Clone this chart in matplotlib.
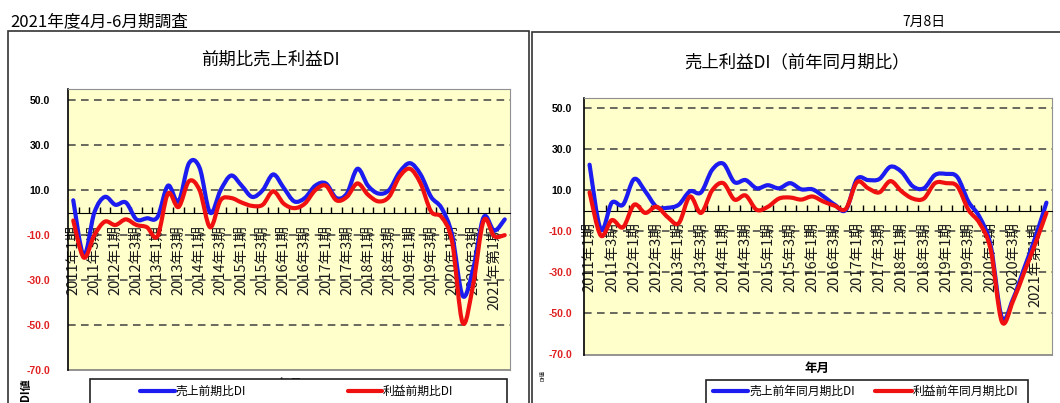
import numpy as np
import matplotlib
matplotlib.use("Agg")
import matplotlib.pyplot as plt
from matplotlib.path import Path
from matplotlib.patches import PathPatch, Rectangle
from matplotlib.lines import Line2D

plt.rcParams['font.family'] = ['Noto Sans CJK JP', 'DejaVu Sans']

# --- data (2011年1期 .. 2021年 , quarterly) ---
tick_labels = ["2011年1期", "2011年3期", "2012年1期", "2012年3期", "2013年1期",
               "2013年3期", "2014年1期", "2014年3期", "2015年1期", "2015年3期",
               "2016年1期", "2016年3期", "2017年1期", "2017年3期", "2018年1期",
               "2018年3期", "2019年1期", "2019年3期", "2020年1期", "2020年3期",
               "2021年第1期"]

# 前期比
sales_qoq = [5.5, -19, 0, 7, 3.5, 4.5, -3, -2.5, -2, 12,
             5, 22, 20, 0, 10, 16.5, 12, 7, 10, 17,
             11, 5, 6.5, 12, 13, 6.5, 8.5, 19.5, 12, 8.5,
             10, 18, 22, 17, 7, 2, -10, -37, -25, -2,
             -8, -3]
profit_qoq = [-3.5, -20, -10, -4, -5.5, -3, -5.5, -6.5, -10.5, 8.5,
              2.5, 14, 10, -6.5, 5.5, 6.5, 4.5, 3, 3.5, 9.5,
              4, 2, 4, 10, 12, 5.5, 7, 13, 8, 5,
              7, 16, 19.5, 13, 0.5, -2, -13, -49, -32, -3.5,
              -10.5, -10]

# 前年同月期比
sales_yoy = [22.5, -9, 4, 3, 15.5, 9.5, 2, 1.5, 3, 9.5,
             9, 20, 23, 14, 15, 11, 12.5, 11, 13.5, 10.5,
             10.5, 7, 3, 0.5, 15.5, 15, 15.5, 21.5, 19, 12,
             11, 17.5, 18, 16.5, 4.5, -3, -17, -52, -43, -28,
             -13, 4]
profit_yoy = [9, -12, -4.5, -8, 3, -1, 2, -3, -6, 7,
              -1, 10, 13.5, 5.5, 7.5, 0.5, 2, 6, 6.5, 5.5,
              7, 4.5, 2.5, 1, 14, 11, 9, 14.5, 9.5, 6,
              6, 13.5, 13.5, 12, 0.5, -6, -19, -54, -44, -30,
              -16, -1]

y_ticks = [50, 30, 10, -10, -30, -50, -70]

BLUE = "#1c1cf0"
RED = "#f01010"
W, H = 1060, 403


def smooth_line(ax, values, color):
    # Excel風のなめらか線 (Catmull-Rom -> ベジェ)
    x = np.arange(len(values), dtype=float)
    y = np.asarray(values, dtype=float)
    n = len(y)
    verts = [(x[0], y[0])]
    codes = [Path.MOVETO]
    for i in range(n - 1):
        a = max(i - 1, 0)
        b = min(i + 2, n - 1)
        c1 = (x[i] + (x[i + 1] - x[a]) / 6, y[i] + (y[i + 1] - y[a]) / 6)
        c2 = (x[i + 1] - (x[b] - x[i]) / 6, y[i + 1] - (y[b] - y[i]) / 6)
        verts += [c1, c2, (x[i + 1], y[i + 1])]
        codes += [Path.CURVE4] * 3
    ax.add_patch(PathPatch(Path(verts, codes), fill=False, edgecolor=color,
                           linewidth=3, capstyle="round", joinstyle="round",
                           zorder=4))


def setup_axes(ax, ypad, xpad):
    ax.set_facecolor("#ffffcc")
    ax.set_xlim(-0.5, len(sales_qoq) - 0.5)
    ax.set_ylim(-70, 55)
    for v in y_ticks[:-1]:
        ax.axhline(v, color="#404040", linewidth=1.1, linestyle=(0, (5, 3.5)),
                   zorder=1)
    ax.axhline(-70, color="#808080", linewidth=1.2, clip_on=False, zorder=1)

    ax.set_yticks(y_ticks)
    ax.set_yticklabels([f"{v:.1f}" for v in y_ticks], fontfamily="Liberation Sans",
                       fontweight="bold", fontsize=7.5)
    for lbl, v in zip(ax.get_yticklabels(), y_ticks):
        lbl.set_color("black" if v > 0 else "#e02020")
    ax.tick_params(axis="y", length=0, pad=ypad)

    ax.spines["bottom"].set_position(("data", 0))
    ax.spines["bottom"].set_color("black")
    ax.spines["left"].set_color("black")
    ax.spines["left"].set_linewidth(1.2)
    for s in ("top", "right"):
        ax.spines[s].set_color("#909090")

    ax.set_xticks(range(0, len(sales_qoq), 2))
    ax.set_xticklabels(tick_labels, rotation=90, fontsize=10.5, color="#1a1a1a",
                       va="top")
    ax.tick_params(axis="x", which="major", length=0, pad=xpad)
    ax.set_xticks(np.arange(0.5, len(sales_qoq) - 1, 1), minor=True)
    ax.tick_params(axis="x", which="minor", direction="in", length=4,
                   width=1, color="black")


fig = plt.figure(figsize=(W / 100, H / 100), dpi=100)
fig.patch.set_facecolor("white")

# panel frames
fig.add_artist(Rectangle((8 / W, -10 / H), 520.5 / W, (H + 10 - 30.7) / H,
                         transform=fig.transFigure, fill=False,
                         edgecolor="#333333", linewidth=1.2, zorder=0))
fig.add_artist(Rectangle((532 / W, -10 / H), 540 / W, (H + 10 - 32) / H,
                         transform=fig.transFigure, fill=False,
                         edgecolor="#333333", linewidth=1.2, zorder=0))

ax1 = fig.add_axes([68 / W, 1 - 370 / H, 442 / W, 281 / H])
ax2 = fig.add_axes([584 / W, 1 - 354.5 / H, 468 / W, 256.5 / H])

setup_axes(ax1, 13, 9)
setup_axes(ax2, 8.6, 8)

smooth_line(ax1, sales_qoq, BLUE)
smooth_line(ax1, profit_qoq, RED)
smooth_line(ax2, sales_yoy, BLUE)
smooth_line(ax2, profit_yoy, RED)

# texts
fig.text(10 / W, 1 - 22 / H, "2021年度4月-6月期調査", fontsize=12,
         ha="left", va="center")
fig.text(902 / W, 1 - 22 / H, "7月8日", fontsize=10, ha="left", va="center")
fig.text(270 / W, 1 - 60 / H, "前期比売上利益DI", fontsize=12.5,
         ha="center", va="center")
fig.text(797 / W, 1 - 62 / H, "売上利益DI（前年同月期比）", fontsize=12.5,
         ha="center", va="center")
fig.text(290 / W, 1 - 384 / H, "年月", fontsize=9, fontweight="bold",
         ha="center", va="center", zorder=2)
fig.text(817 / W, 1 - 368 / H, "年月", fontsize=9, fontweight="bold",
         ha="center", va="center")
fig.text(25 / W, 1 - 390 / H, "DI値", fontsize=8, fontweight="bold",
         rotation=90, ha="center", va="center")
fig.text(543 / W, 1 - 376 / H, "DI値", fontsize=4, rotation=90,
         ha="center", va="center")

# legends
legends = [
    (90, 507, 379, [(140, 175, BLUE, "売上前期比DI"), (348, 382, RED, "利益前期比DI")]),
    (706, 1028, 380, [(713, 748, BLUE, "売上前年同月期比DI"),
                      (875, 912, RED, "利益前年同月期比DI")]),
]
for x0, x1, ytop, entries in legends:
    fig.add_artist(Rectangle((x0 / W, -10 / H), (x1 - x0) / W, (H + 10 - ytop) / H,
                             transform=fig.transFigure, facecolor="white",
                             edgecolor="#222222", linewidth=1.2, zorder=5))
    for lx0, lx1, col, txt in entries:
        fig.add_artist(Line2D([lx0 / W, lx1 / W], [1 - 391 / H, 1 - 391 / H],
                              transform=fig.transFigure, color=col,
                              linewidth=3, solid_capstyle="round", zorder=6))
        fig.text((lx1 + 1) / W, 1 - 391 / H, txt, fontsize=8.5, ha="left",
                 va="center", zorder=6)

fig.savefig("out.png", dpi=100, facecolor=fig.get_facecolor())
